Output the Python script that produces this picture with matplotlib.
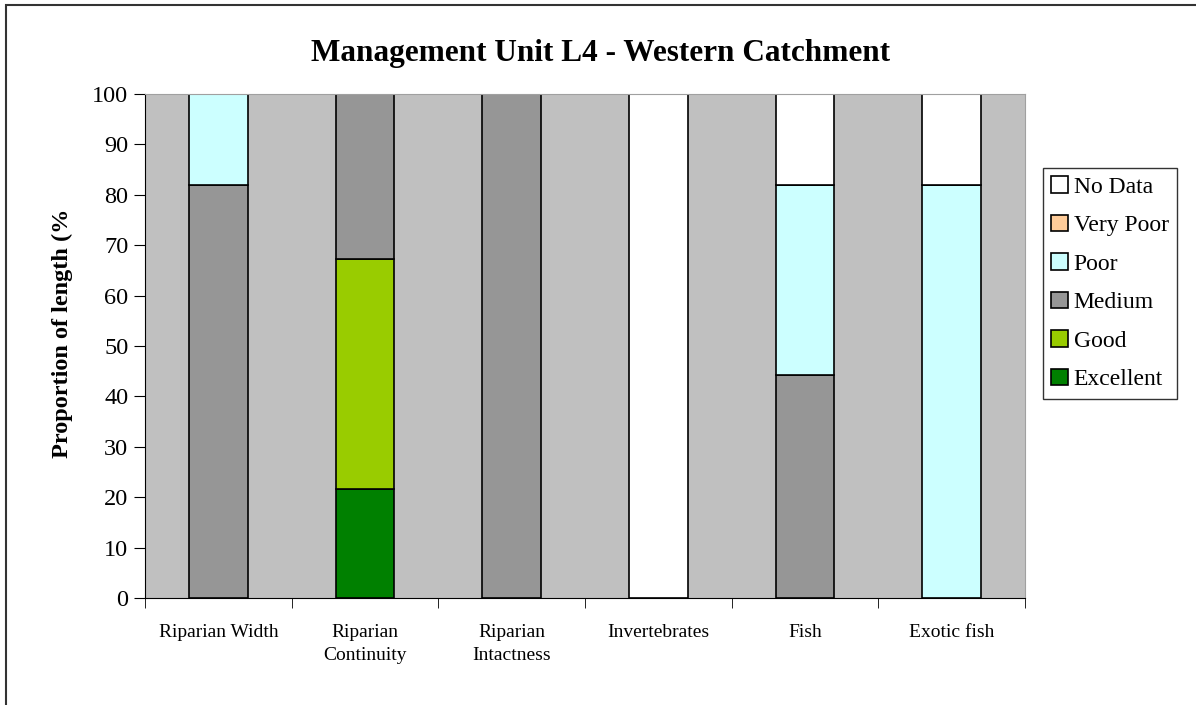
import matplotlib
matplotlib.use("Agg")
import matplotlib.pyplot as plt
from matplotlib.patches import Rectangle
import numpy as np

categories = ["Riparian Width", "Riparian\nContinuity", "Riparian\nIntactness",
              "Invertebrates", "Fish", "Exotic fish"]

# stacked from the bottom up
classes = ["Excellent", "Good", "Medium", "Poor", "Very Poor", "No Data"]
excellent = [0, 21.6, 0, 0, 0, 0]
good = [0, 45.6, 0, 0, 0, 0]
medium = [82, 32.8, 100, 0, 44.3, 0]
poor = [18, 0, 0, 0, 37.7, 82]
very_poor = [0, 0, 0, 0, 0, 0]
no_data = [0, 0, 0, 100, 18, 18]
colors = ["#008000", "#99CC00", "#969696", "#CCFFFF", "#FFCC99", "#FFFFFF"]

plt.rcParams["font.family"] = ["Liberation Serif", "DejaVu Serif"]

fig = plt.figure(figsize=(11.96, 7.05), dpi=100)
ax = fig.add_axes([145 / 1196, 1 - 598 / 705, 880 / 1196, 504 / 705])
ax.set_facecolor("#C0C0C0")

x = np.arange(len(categories))
bottom = np.zeros(len(categories))
handles = []
for name, vals, col in zip(classes, [excellent, good, medium, poor, very_poor, no_data], colors):
    vals = np.array(vals, dtype=float)
    h = ax.bar(x, vals, bottom=bottom, width=0.4, color=col, edgecolor="black",
               linewidth=1.2, label=name)
    handles.append(h)
    bottom += vals

ax.set_xlim(-0.5, len(categories) - 0.5)
ax.set_ylim(0, 100)
ax.set_yticks(np.arange(0, 101, 10))
ax.tick_params(axis="y", labelsize=17.5, length=8, direction="out", pad=4)
ax.set_xticks(x)
ax.set_xticklabels(categories, fontsize=14, linespacing=1.45)
ax.tick_params(axis="x", length=0, pad=19)
ax.set_xticks(np.arange(-0.5, len(categories), 1), minor=True)
ax.tick_params(axis="x", which="minor", length=7, direction="out")

for s in ["top", "right"]:
    ax.spines[s].set_color("#A0A0A0")
ax.spines["left"].set_color("black")
ax.spines["bottom"].set_color("black")

fig.text(62 / 1196, 1 - 333 / 705, "Proportion of length (%", rotation=90,
         fontsize=17.5, fontweight="bold", ha="center", va="center")
fig.text(601 / 1196, 1 - 53 / 705, "Management Unit L4 - Western Catchment",
         fontsize=22.5, fontweight="bold", ha="center", va="center")

leg = fig.legend(handles[::-1], classes[::-1], loc="upper left",
                 bbox_to_anchor=(1043 / 1196, 1 - 168 / 705), fontsize=17,
                 frameon=True, fancybox=False, edgecolor="black",
                 handlelength=0.7, handleheight=0.7, handletextpad=0.25,
                 labelspacing=0.72, borderpad=0.35, borderaxespad=0)
leg.get_frame().set_linewidth(1.0)

# outer chart border
fig.patches.append(Rectangle((6 / 1196, -0.1), 1.2, 1 - 5 / 705 + 0.1,
                             transform=fig.transFigure, fill=False,
                             edgecolor="#333333", linewidth=1.5))

fig.savefig("out.png", dpi=100)
